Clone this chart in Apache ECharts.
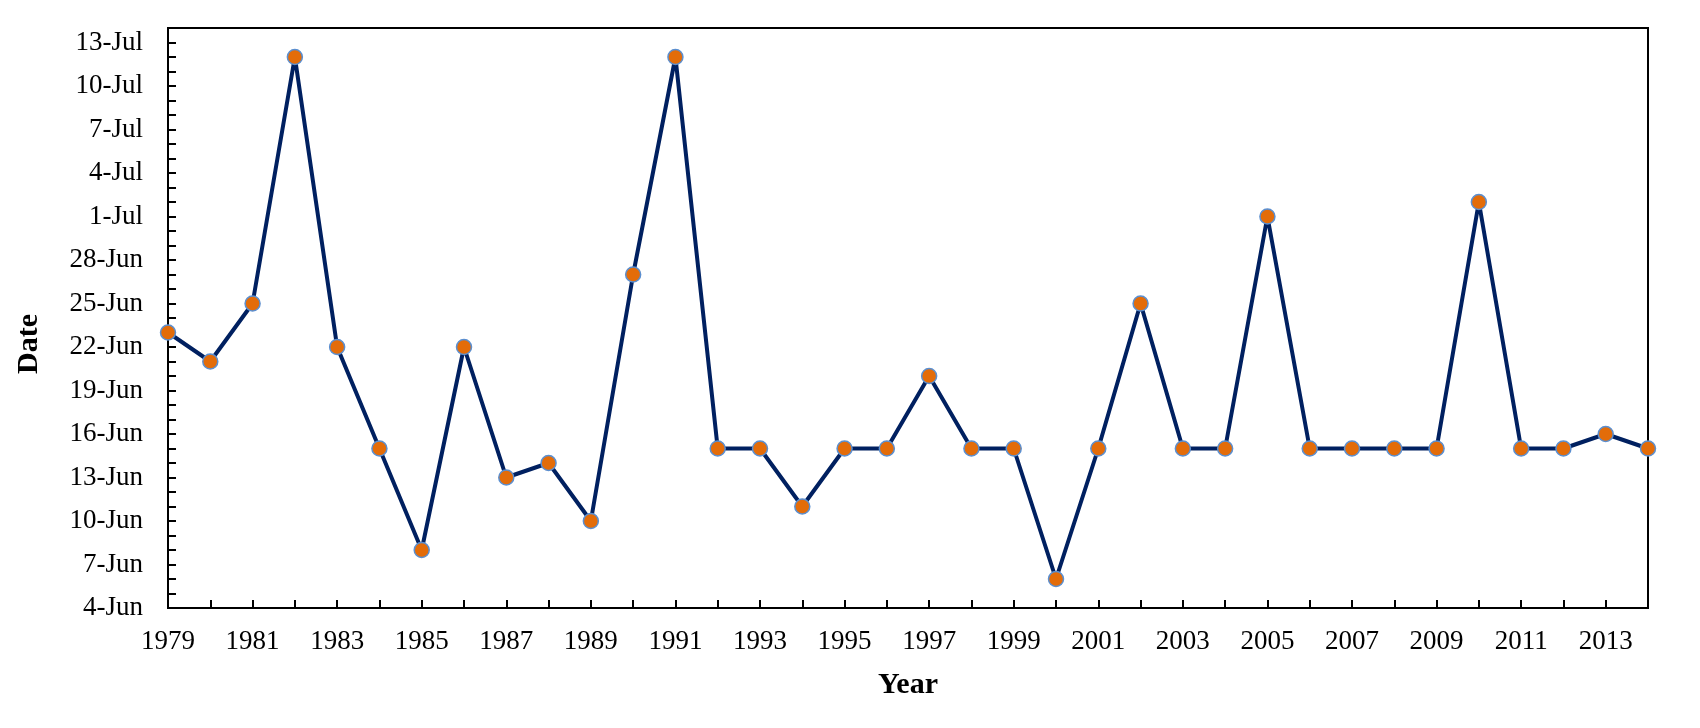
<!DOCTYPE html>
<html>
<head>
<meta charset="utf-8">
<script src="https://cdn.jsdelivr.net/npm/echarts@6/dist/echarts.min.js"></script>
<style>
html,body{margin:0;padding:0;background:#fff;}
#chart{width:1700px;height:728px;}
</style>
</head>
<body>
<div id="chart"></div>
<script>
const years = ['1979','1980','1981','1982','1983','1984','1985','1986','1987','1988',
  '1989','1990','1991','1992','1993','1994','1995','1996','1997','1998',
  '1999','2000','2001','2002','2003','2004','2005','2006','2007','2008',
  '2009','2010','2011','2012','2013','2014'];
const dates = ['23-Jun','21-Jun','25-Jun','12-Jul','22-Jun','15-Jun','8-Jun','22-Jun','13-Jun','14-Jun',
  '10-Jun','27-Jun','12-Jul','15-Jun','15-Jun','11-Jun','15-Jun','15-Jun','20-Jun','15-Jun',
  '15-Jun','6-Jun','15-Jun','25-Jun','15-Jun','15-Jun','1-Jul','15-Jun','15-Jun','15-Jun',
  '15-Jun','2-Jul','15-Jun','15-Jun','16-Jun','15-Jun'];
const yTickLabels = ['4-Jun','7-Jun','10-Jun','13-Jun','16-Jun','19-Jun','22-Jun','25-Jun','28-Jun',
  '1-Jul','4-Jul','7-Jul','10-Jul','13-Jul'];

// convert a "d-Mon" date into days after 4-Jun
function dayOffset(s) {
  const parts = s.split('-');
  const d = parseInt(parts[0], 10);
  return (parts[1] === 'Jun' ? d : 30 + d) - 4;
}
const values = dates.map(dayOffset);

const font = 'Liberation Serif';
const chart = echarts.init(document.getElementById('chart'));
chart.setOption({
  animation: false,
  backgroundColor: '#fff',
  grid: {left: 168, right: 52, top: 28, bottom: 120, show: true, borderColor: '#000', borderWidth: 2, containLabel: false},
  xAxis: {
    type: 'category',
    data: years,
    boundaryGap: false,
    name: 'Year',
    nameLocation: 'middle',
    nameGap: 62,
    nameTextStyle: {fontFamily: font, fontSize: 30, fontWeight: 'bold', color: '#000'},
    axisLine: {lineStyle: {color: '#000', width: 2}},
    axisTick: {inside: true, length: 8, interval: 0, lineStyle: {color: '#000', width: 2}},
    axisLabel: {interval: 1, margin: 20, fontFamily: font, fontSize: 27, color: '#000'},
    splitLine: {show: false}
  },
  yAxis: {
    type: 'value',
    min: 0,
    max: 40,
    interval: 1,
    axisLine: {show: true, lineStyle: {color: '#000', width: 2}},
    axisTick: {show: true, inside: true, length: 8, lineStyle: {color: '#000', width: 2}},
    axisLabel: {
      margin: 25, fontFamily: font, fontSize: 27, color: '#000',
      formatter: function (v) {
        if (v % 3 !== 0) return '';
        const i = v / 3;
        return i < yTickLabels.length ? yTickLabels[i] : '';
      }
    },
    splitLine: {show: false}
  },
  graphic: [{
    type: 'text',
    x: 29, y: 344,
    rotation: Math.PI / 2,
    style: {text: 'Date', font: 'bold 30px "Liberation Serif"', fill: '#000', align: 'center', verticalAlign: 'middle'}
  }],
  series: [{
    type: 'line',
    data: values,
    symbol: 'circle',
    symbolSize: 15,
    lineStyle: {color: '#002060', width: 4},
    itemStyle: {color: '#E36C09', borderColor: '#5B8FD0', borderWidth: 1.5}
  }]
});
</script>
</body>
</html>
